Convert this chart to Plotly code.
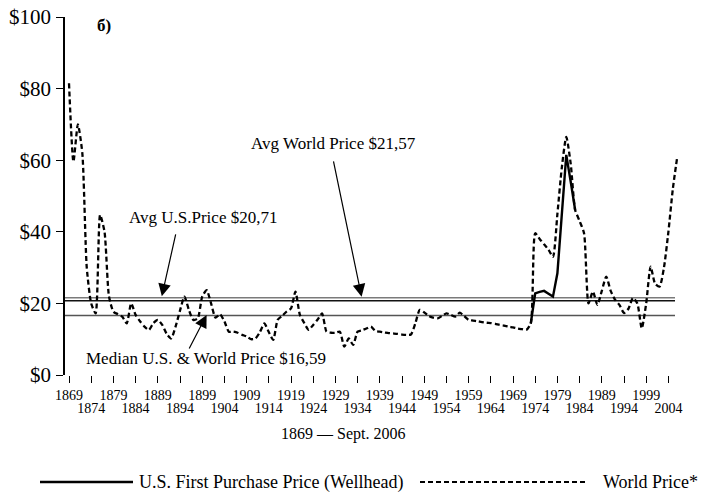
import plotly.graph_objects as go

# ---------------- data ----------------
WORLD_YEARS = list(range(1869, 2007))
WORLD_PRICE = [
    81.5, 59.6, 70.0, 62.0, 30.0, 20.0, 17.2, 44.7, 40.0, 22.0,   # 1869-1878
    17.7, 17.0, 16.3, 14.4, 20.0, 16.8, 15.0, 13.5, 12.6, 14.5,   # 1879-1888
    15.4, 14.0, 11.5, 10.2, 13.5, 18.0, 21.9, 18.2, 15.4, 15.8,   # 1889-1898
    21.9, 23.7, 20.0, 16.0, 17.0, 15.0, 12.1, 12.1, 11.8, 11.2,   # 1899-1908
    10.8, 10.0, 10.2, 12.0, 14.4, 12.0, 9.8, 15.4, 16.5, 17.7,    # 1909-1918
    18.6, 23.3, 16.8, 14.5, 12.6, 14.0, 15.5, 17.2, 12.1, 11.8,   # 1919-1928
    11.8, 12.1, 7.9, 10.2, 8.4, 12.1, 12.5, 13.0, 13.5, 12.3,     # 1929-1938
    12.1, 11.9, 11.7, 11.6, 11.5, 11.3, 11.2, 11.3, 14.4, 18.2,   # 1939-1948
    17.5, 16.5, 16.0, 15.8, 16.5, 17.2, 16.8, 16.3, 17.4, 16.5,   # 1949-1958
    15.4, 15.2, 15.0, 14.8, 14.6, 14.5, 14.3, 14.0, 13.8, 13.5,   # 1959-1968
    13.3, 13.0, 12.8, 12.6, 14.4, 39.6, 38.0, 36.5, 35.0, 33.0,   # 1969-1978
    45.0, 58.0, 66.5, 59.0, 46.1, 43.0, 39.6, 20.0, 23.3, 19.6,   # 1979-1988
    23.5, 27.5, 23.5, 21.0, 19.5, 17.3, 18.5, 21.5, 20.0, 13.0,   # 1989-1998
    20.0, 30.3, 25.5, 24.7, 30.0, 40.0, 52.0, 61.0,               # 1999-2006
]
US_YEARS = list(range(1973, 1984))
US_PRICE = [14.4, 22.8, 23.2, 23.5, 22.7, 21.9, 28.4, 44.0, 61.5, 54.0, 46.1]

AVG_WORLD = 21.57
AVG_US = 20.71
MEDIAN_ALL = 16.59

Y_TICKS = [0, 20, 40, 60, 80, 100]
Y_TICK_TEXT = ["$0", "$20", "$40", "$60", "$80", "$100"]
X_TICKS = list(range(1869, 2005, 5))
X_TICK_TEXT_ROW1 = [str(y) if i % 2 == 0 else "" for i, y in enumerate(X_TICKS)]
X_TICKS_ROW2 = X_TICKS[1::2]
X_TICK_TEXT_ROW2 = [str(y) for y in X_TICKS_ROW2]

LABEL_WORLD = "Avg World Price $21,57"
LABEL_US = "Avg U.S.Price $20,71"
LABEL_MEDIAN = "Median U.S. & World Price $16,59"
AXIS_TITLE = "1869 — Sept. 2006"
PANEL_LABEL = "б)"
LEGEND_US = "U.S. First Purchase Price (Wellhead)"
LEGEND_WORLD = "World Price*"

# ---------------- layout helpers ----------------
W, H = 703, 497
L, R, T, B = 65, 20, 17, 122
PW, PH = W - L - R, H - T - B
X0 = 1869 - 4 / 4.44
X1 = 1869 + (W - R - 69) / 4.44
LINE_END = 1869 + (675 - 69) / 4.44


def px(xp):
    return (xp - L) / PW


def py(yp):
    return (H - B - yp) / PH


FONT = "Liberation Serif, Times New Roman, serif"

fig = go.Figure()
fig.add_trace(go.Scatter(x=US_YEARS, y=US_PRICE, mode="lines", xaxis="x2",
                         line=dict(color="black", width=2.4),
                         showlegend=False, hoverinfo="skip"))
fig.add_trace(go.Scatter(x=WORLD_YEARS, y=WORLD_PRICE, mode="lines",
                         line=dict(color="black", width=2.3, dash="5px,3px",
                                   shape="spline", smoothing=0.6),
                         showlegend=False, hoverinfo="skip"))

for val, col in [(AVG_WORLD, "#7a7a7a"), (AVG_US, "#111111"), (MEDIAN_ALL, "#555555")]:
    fig.add_shape(type="line", xref="x", yref="y", x0=X0, x1=LINE_END, y0=val, y1=val,
                  line=dict(color=col, width=1.5), layer="below")

# arrows
arrow_style = dict(showarrow=True, arrowhead=2, arrowsize=2.1, arrowwidth=1.2,
                   arrowcolor="black", axref="x", ayref="y", text="")
fig.add_annotation(x=1934.9, y=AVG_WORLD + 0.3, ax=1928.5, ay=60.1, **arrow_style)
fig.add_annotation(x=1889.9, y=AVG_WORLD + 0.4, ax=1893.1, ay=39.7, **arrow_style)
fig.add_annotation(x=1900.0, y=MEDIAN_ALL + 0.2, ax=1895.9, ay=7.0, **arrow_style)

txt = dict(showarrow=False, font=dict(family=FONT, size=17, color="black"),
           xref="x", yref="y", xanchor="center", yanchor="middle")
fig.add_annotation(x=1928.6, y=64.8, text=LABEL_WORLD, **txt)
fig.add_annotation(x=1899.2, y=43.9, text=LABEL_US, **txt)
fig.add_annotation(x=1899.9, y=4.7, text=LABEL_MEDIAN, **txt)

# panel label, axis title
fig.add_annotation(x=px(94.5), y=py(14.5), xref="paper", yref="paper", showarrow=False,
                   text="<b>" + PANEL_LABEL + "</b>", font=dict(family=FONT, size=17, color="black"))
fig.add_annotation(x=px(342.5), y=py(445), xref="paper", yref="paper", showarrow=False,
                   text=AXIS_TITLE, font=dict(family=FONT, size=16, color="black"))

# legend (drawn manually)
fig.add_shape(type="line", xref="paper", yref="paper", x0=px(40), x1=px(133), y0=py(482), y1=py(482),
              line=dict(color="black", width=2.4))
fig.add_annotation(x=px(137), y=py(482), xref="paper", yref="paper", showarrow=False,
                   xanchor="left", yanchor="middle", text=LEGEND_US,
                   font=dict(family=FONT, size=18, color="black"))
fig.add_annotation(x=px(700), y=py(482), xref="paper", yref="paper", showarrow=False,
                   xanchor="right", yanchor="middle", text=LEGEND_WORLD,
                   font=dict(family=FONT, size=18, color="black"))
fig.add_shape(type="line", xref="paper", yref="paper", x0=px(420), x1=px(588), y0=py(482), y1=py(482),
              line=dict(color="black", width=2, dash="5px,3px"))

tickfont = dict(family=FONT, size=14, color="black")
fig.update_layout(
    width=W, height=H, margin=dict(l=L, r=R, t=T, b=B, autoexpand=False),
    paper_bgcolor="white", plot_bgcolor="white",
    font=dict(family=FONT, color="black"),
    xaxis=dict(range=[X0, X1], showgrid=False, zeroline=False, showline=False,
               automargin=False,
               tickmode="array", tickvals=X_TICKS, ticktext=X_TICK_TEXT_ROW1, tickangle=0,
               ticks="outside", ticklen=7, tickwidth=1.2, tickcolor="black",
               tickfont=tickfont),
    xaxis2=dict(range=[X0, X1], matches="x", overlaying="x", side="bottom",
                showgrid=False, zeroline=False, showline=False, automargin=False,
                tickmode="array", tickvals=X_TICKS_ROW2, ticktext=X_TICK_TEXT_ROW2, tickangle=0,
                ticks="", ticklabelstandoff=23, tickfont=tickfont),
    yaxis=dict(range=[0, 100], showgrid=False, zeroline=False, showline=True,
               automargin=False,
               linecolor="black", linewidth=1.5,
               tickmode="array", tickvals=Y_TICKS, ticktext=Y_TICK_TEXT,
               ticks="outside", ticklen=7, tickwidth=1.2, tickcolor="black",
               ticklabelstandoff=1,
               tickfont=dict(family=FONT, size=21, color="black")),
)

fig.write_html("out.html", config={"displayModeBar": False},
               post_script="document.body.style.margin='0';document.body.style.overflow='hidden';")
